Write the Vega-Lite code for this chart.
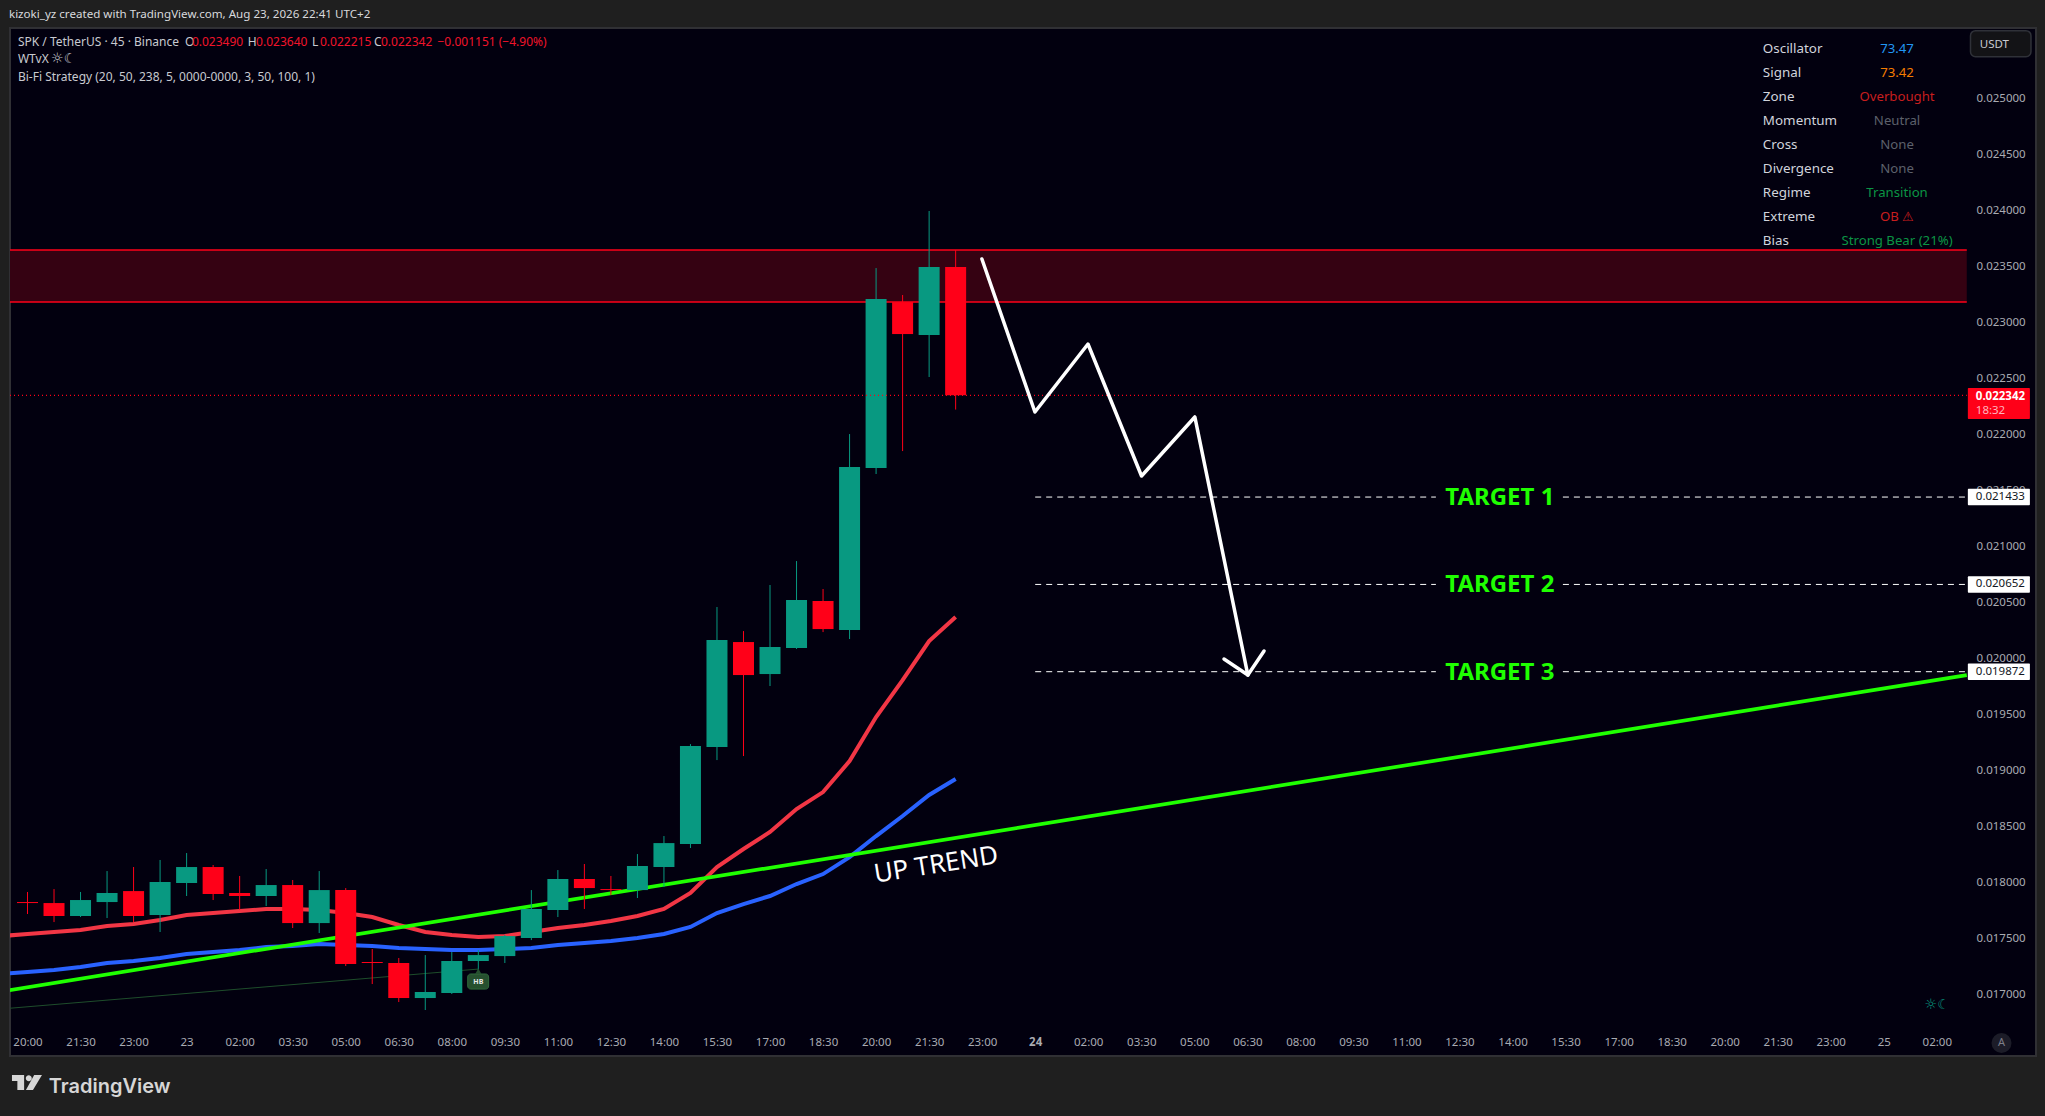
{
  "$schema": "https://vega.github.io/schema/vega-lite/v6.json",
  "width": 2026,
  "height": 1028,
  "autosize": "none",
  "padding": {"left": 10, "top": 28, "right": 9, "bottom": 60},
  "background": "#1f1f1f",
  "view": {"fill": "#02000f", "stroke": "#303034", "strokeWidth": 2},
  "config": {
    "font": "Noto Sans",
    "axis": {"grid": false, "domain": false, "ticks": false, "title": null, "labelFont": "Noto Sans", "labelFontSize": 11.5, "labelColor": "#a9abb2"}
  },
  "datasets": {
    "candles": [
      {"bar": 0, "open": 0.017813, "high": 0.017903, "low": 0.017706, "close": 0.017804},
      {"bar": 1, "open": 0.017804, "high": 0.017929, "low": 0.017634, "close": 0.017688},
      {"bar": 2, "open": 0.017688, "high": 0.017903, "low": 0.017679, "close": 0.017831},
      {"bar": 3, "open": 0.017813, "high": 0.01809, "low": 0.01767, "close": 0.017894},
      {"bar": 4, "open": 0.017911, "high": 0.018126, "low": 0.017634, "close": 0.017688},
      {"bar": 5, "open": 0.017697, "high": 0.018189, "low": 0.017545, "close": 0.017992},
      {"bar": 6, "open": 0.017983, "high": 0.018251, "low": 0.017867, "close": 0.018126},
      {"bar": 7, "open": 0.018126, "high": 0.018144, "low": 0.017831, "close": 0.017885},
      {"bar": 8, "open": 0.017894, "high": 0.018046, "low": 0.017742, "close": 0.017867},
      {"bar": 9, "open": 0.017867, "high": 0.018108, "low": 0.017777, "close": 0.017965},
      {"bar": 10, "open": 0.017965, "high": 0.01801, "low": 0.017581, "close": 0.017625},
      {"bar": 11, "open": 0.017625, "high": 0.01809, "low": 0.017536, "close": 0.01792},
      {"bar": 12, "open": 0.01792, "high": 0.017938, "low": 0.017241, "close": 0.017259},
      {"bar": 13, "open": 0.017277, "high": 0.017393, "low": 0.01708, "close": 0.017268},
      {"bar": 14, "open": 0.017268, "high": 0.017313, "low": 0.016919, "close": 0.016955},
      {"bar": 15, "open": 0.016955, "high": 0.017339, "low": 0.016848, "close": 0.017009},
      {"bar": 16, "open": 0.017, "high": 0.017366, "low": 0.016991, "close": 0.017286},
      {"bar": 17, "open": 0.017286, "high": 0.017384, "low": 0.017205, "close": 0.017339},
      {"bar": 18, "open": 0.01733, "high": 0.017518, "low": 0.017268, "close": 0.017509},
      {"bar": 19, "open": 0.017491, "high": 0.01792, "low": 0.017473, "close": 0.017751},
      {"bar": 20, "open": 0.017742, "high": 0.018099, "low": 0.017679, "close": 0.018019},
      {"bar": 21, "open": 0.018019, "high": 0.018153, "low": 0.017751, "close": 0.017938},
      {"bar": 22, "open": 0.017929, "high": 0.018046, "low": 0.017876, "close": 0.01792},
      {"bar": 23, "open": 0.01792, "high": 0.018242, "low": 0.017849, "close": 0.018135},
      {"bar": 24, "open": 0.018126, "high": 0.018403, "low": 0.017947, "close": 0.01834},
      {"bar": 25, "open": 0.018332, "high": 0.019225, "low": 0.018296, "close": 0.019208},
      {"bar": 26, "open": 0.019199, "high": 0.02045, "low": 0.019082, "close": 0.020155},
      {"bar": 27, "open": 0.020137, "high": 0.020235, "low": 0.019118, "close": 0.019842},
      {"bar": 28, "open": 0.019851, "high": 0.020647, "low": 0.019744, "close": 0.020093},
      {"bar": 29, "open": 0.020084, "high": 0.020861, "low": 0.020075, "close": 0.020513},
      {"bar": 30, "open": 0.020504, "high": 0.020611, "low": 0.020226, "close": 0.020253},
      {"bar": 31, "open": 0.020244, "high": 0.021996, "low": 0.020164, "close": 0.021701},
      {"bar": 32, "open": 0.021692, "high": 0.02348, "low": 0.021639, "close": 0.023203},
      {"bar": 33, "open": 0.023176, "high": 0.023239, "low": 0.021844, "close": 0.02289},
      {"bar": 34, "open": 0.022881, "high": 0.02399, "low": 0.022506, "close": 0.023489},
      {"bar": 35, "open": 0.02349, "high": 0.02364, "low": 0.022215, "close": 0.022342}
    ],
    "averages": [
      {"bar": -1, "fast": 0.017509, "slow": 0.01717},
      {"bar": 0, "fast": 0.017527, "slow": 0.017187},
      {"bar": 1, "fast": 0.017545, "slow": 0.017205},
      {"bar": 2, "fast": 0.017563, "slow": 0.017232},
      {"bar": 3, "fast": 0.017599, "slow": 0.017268},
      {"bar": 4, "fast": 0.017616, "slow": 0.017286},
      {"bar": 5, "fast": 0.017652, "slow": 0.017313},
      {"bar": 6, "fast": 0.017697, "slow": 0.017348},
      {"bar": 7, "fast": 0.017715, "slow": 0.017366},
      {"bar": 8, "fast": 0.017733, "slow": 0.017384},
      {"bar": 9, "fast": 0.017751, "slow": 0.017411},
      {"bar": 10, "fast": 0.017751, "slow": 0.01742},
      {"bar": 11, "fast": 0.017742, "slow": 0.017438},
      {"bar": 12, "fast": 0.017715, "slow": 0.017429},
      {"bar": 13, "fast": 0.017679, "slow": 0.01742},
      {"bar": 14, "fast": 0.017608, "slow": 0.017402},
      {"bar": 15, "fast": 0.017545, "slow": 0.017393},
      {"bar": 16, "fast": 0.017518, "slow": 0.017384},
      {"bar": 17, "fast": 0.0175, "slow": 0.017384},
      {"bar": 18, "fast": 0.017509, "slow": 0.017393},
      {"bar": 19, "fast": 0.017545, "slow": 0.017402},
      {"bar": 20, "fast": 0.017581, "slow": 0.017429},
      {"bar": 21, "fast": 0.017608, "slow": 0.017447},
      {"bar": 22, "fast": 0.017643, "slow": 0.017465},
      {"bar": 23, "fast": 0.017688, "slow": 0.017491},
      {"bar": 24, "fast": 0.017751, "slow": 0.017527},
      {"bar": 25, "fast": 0.017894, "slow": 0.01759},
      {"bar": 26, "fast": 0.018126, "slow": 0.017715},
      {"bar": 27, "fast": 0.018287, "slow": 0.017795},
      {"bar": 28, "fast": 0.018439, "slow": 0.017867},
      {"bar": 29, "fast": 0.018644, "slow": 0.017974},
      {"bar": 30, "fast": 0.018796, "slow": 0.018063},
      {"bar": 31, "fast": 0.019073, "slow": 0.018215},
      {"bar": 32, "fast": 0.019467, "slow": 0.018403},
      {"bar": 33, "fast": 0.019797, "slow": 0.018582},
      {"bar": 34, "fast": 0.020146, "slow": 0.01877},
      {"bar": 35, "fast": 0.020361, "slow": 0.018913}
    ],
    "trend": [
      {"bar": -1, "price": 0.017013},
      {"bar": 73.13, "price": 0.019842}
    ],
    "channel": [
      {"bar": -1, "price": 0.016857},
      {"bar": 17.01, "price": 0.017214}
    ],
    "zone": [
      {"bar": -0.66, "bar2": 73.13, "price": 0.023177, "price2": 0.023641}
    ],
    "zoneEdges": [
      {"bar": -0.66, "bar2": 73.13, "price": 0.023177},
      {"bar": -0.66, "bar2": 73.13, "price": 0.023641}
    ],
    "lastPrice": [
      {"bar": -0.66, "bar2": 73.13, "price": 0.022342}
    ],
    "targets": [
      {"bar": 38, "bar2": 53.11, "price": 0.021433},
      {"bar": 57.9, "bar2": 73.13, "price": 0.021433},
      {"bar": 38, "bar2": 53.11, "price": 0.020652},
      {"bar": 57.9, "bar2": 73.13, "price": 0.020652},
      {"bar": 38, "bar2": 53.11, "price": 0.019872},
      {"bar": 57.9, "bar2": 73.13, "price": 0.019872}
    ],
    "drawing": [
      {"seg": "wave", "bar": 35.99, "price": 0.023561},
      {"seg": "wave", "bar": 37.99, "price": 0.022193},
      {"seg": "wave", "bar": 39.99, "price": 0.022801},
      {"seg": "wave", "bar": 42.01, "price": 0.021621},
      {"seg": "wave", "bar": 44.02, "price": 0.022149},
      {"seg": "wave", "bar": 46.02, "price": 0.019842},
      {"seg": "head", "bar": 45.12, "price": 0.019985},
      {"seg": "head", "bar": 46.02, "price": 0.019842},
      {"seg": "head", "bar": 46.63, "price": 0.020057}
    ],
    "tags": [
      {"bar": 73.17, "bar2": 75.51, "price": 0.021359, "price2": 0.021507},
      {"bar": 73.17, "bar2": 75.51, "price": 0.020578, "price2": 0.020726},
      {"bar": 73.17, "bar2": 75.51, "price": 0.019798, "price2": 0.019946}
    ],
    "texts": [
      {"text": "SPK / TetherUS · 45 · Binance", "bar": -0.36, "price": 0.025503, "tone": "label"},
      {"text": "O", "bar": 5.94, "price": 0.025503, "tone": "label"},
      {"text": "0.023490", "bar": 6.2, "price": 0.025503, "tone": "down"},
      {"text": "H", "bar": 8.31, "price": 0.025503, "tone": "label"},
      {"text": "0.023640", "bar": 8.62, "price": 0.025503, "tone": "down"},
      {"text": "L", "bar": 10.73, "price": 0.025503, "tone": "label"},
      {"text": "0.022215", "bar": 11.03, "price": 0.025503, "tone": "down"},
      {"text": "C", "bar": 13.07, "price": 0.025503, "tone": "label"},
      {"text": "0.022342", "bar": 13.33, "price": 0.025503, "tone": "down"},
      {"text": "−0.001151 (−4.90%)", "bar": 15.46, "price": 0.025503, "tone": "down"},
      {"text": "WTvX", "bar": -0.36, "price": 0.025349, "tone": "label"},
      {"text": "Bi-Fi Strategy (20, 50, 238, 5, 0000-0000, 3, 50, 100, 1)", "bar": -0.36, "price": 0.02519, "tone": "label"}
    ],
    "header": [
      {"text": "kizoki_yz created with TradingView.com, Aug 23, 2026 22:41 UTC+2", "bar": -0.7, "price": 0.025742}
    ],
    "glyphs": [
      {"text": "☼☾", "bar": 0.89, "price": 0.025349, "tone": "label"},
      {"text": "☼☾", "bar": 71.54, "price": 0.016893, "tone": "candle"}
    ],
    "infoLabels": [
      {"text": "Oscillator", "bar": 65.44, "price": 0.025444},
      {"text": "Signal", "bar": 65.44, "price": 0.02523},
      {"text": "Zone", "bar": 65.44, "price": 0.025015},
      {"text": "Momentum", "bar": 65.44, "price": 0.024801},
      {"text": "Cross", "bar": 65.44, "price": 0.024586},
      {"text": "Divergence", "bar": 65.44, "price": 0.024372},
      {"text": "Regime", "bar": 65.44, "price": 0.024157},
      {"text": "Extreme", "bar": 65.44, "price": 0.023943},
      {"text": "Bias", "bar": 65.44, "price": 0.023728}
    ],
    "infoValues": [
      {"text": "73.47", "bar": 70.5, "price": 0.025444, "tone": "oscillator"},
      {"text": "73.42", "bar": 70.5, "price": 0.02523, "tone": "signal"},
      {"text": "Overbought", "bar": 70.5, "price": 0.025015, "tone": "bear"},
      {"text": "Neutral", "bar": 70.5, "price": 0.024801, "tone": "muted"},
      {"text": "None", "bar": 70.5, "price": 0.024586, "tone": "muted"},
      {"text": "None", "bar": 70.5, "price": 0.024372, "tone": "muted"},
      {"text": "Transition", "bar": 70.5, "price": 0.024157, "tone": "bull"},
      {"text": "OB ⚠", "bar": 70.5, "price": 0.023943, "tone": "bear"},
      {"text": "Strong Bear (21%)", "bar": 70.5, "price": 0.023728, "tone": "bull"}
    ],
    "tagTexts": [
      {"text": "0.021433", "bar": 73.47, "price": 0.021433, "tone": "dark"},
      {"text": "0.020652", "bar": 73.47, "price": 0.020652, "tone": "dark"},
      {"text": "0.019872", "bar": 73.47, "price": 0.019872, "tone": "dark"},
      {"text": "18:32", "bar": 73.47, "price": 0.022198, "tone": "pink"},
      {"text": "USDT", "bar": 73.62, "price": 0.025474, "tone": "label"}
    ],
    "targetNames": [
      {"text": "TARGET 1", "bar": 55.52, "price": 0.021433},
      {"text": "TARGET 2", "bar": 55.52, "price": 0.020652},
      {"text": "TARGET 3", "bar": 55.52, "price": 0.019872}
    ]
  },
  "encoding": {
    "x": {
      "field": "bar",
      "type": "quantitative",
      "scale": {"domain": [-0.66, 75.74], "nice": false, "zero": false, "padding": 0},
      "axis": {
        "orient": "bottom",
        "title": null,
        "values": [0, 2, 4, 6, 8, 10, 12, 14, 16, 18, 20, 22, 24, 26, 28, 30, 32, 34, 36, 38, 40, 42, 44, 46, 48, 50, 52, 54, 56, 58, 60, 62, 64, 66, 68, 70, 72],
        "labelExpr": "['20:00','21:30','23:00','23','02:00','03:30','05:00','06:30','08:00','09:30','11:00','12:30','14:00','15:30','17:00','18:30','20:00','21:30','23:00','24','02:00','03:30','05:00','06:30','08:00','09:30','11:00','12:30','14:00','15:30','17:00','18:30','20:00','21:30','23:00','25','02:00'][datum.value / 2]",
        "labelFontWeight": {"condition": {"test": "datum.value == 38", "value": "bold"}, "value": "normal"},
        "labelPadding": -14,
        "labelBaseline": "middle",
        "labelOverlap": false,
        "labelBound": false,
        "labelFlush": false
      }
    },
    "y": {
      "field": "price",
      "type": "quantitative",
      "scale": {"domain": [0.016436872, 0.025625692], "nice": false, "zero": false, "padding": 0},
      "axis": {
        "orient": "right",
        "title": null,
        "values": [0.017, 0.0175, 0.018, 0.0185, 0.019, 0.0195, 0.02, 0.0205, 0.021, 0.0215, 0.022, 0.0225, 0.023, 0.0235, 0.024, 0.0245, 0.025],
        "format": ".6f",
        "labelAlign": "left",
        "labelBaseline": "middle",
        "labelPadding": -60,
        "labelOffset": 1,
        "labelOverlap": false,
        "labelBound": false,
        "labelFlush": false
      }
    }
  },
  "layer": [
    {
      "data": {"name": "zone"},
      "mark": {"type": "rect", "color": "#350212"},
      "encoding": {"x2": {"field": "bar2"}, "y2": {"field": "price2"}}
    },
    {
      "data": {"name": "zoneEdges"},
      "mark": {"type": "rule", "color": "#ff0018", "strokeWidth": 1.5},
      "encoding": {"x2": {"field": "bar2"}}
    },
    {
      "data": {"name": "channel"},
      "mark": {"type": "line", "color": "#1e4d2b", "strokeWidth": 1, "clip": true},
      "encoding": {}
    },
    {
      "data": {"name": "averages"},
      "mark": {"type": "line", "color": "#f23645", "strokeWidth": 4, "clip": true},
      "encoding": {"y": {"field": "fast", "type": "quantitative"}}
    },
    {
      "data": {"name": "averages"},
      "mark": {"type": "line", "color": "#2962ff", "strokeWidth": 4, "clip": true},
      "encoding": {"y": {"field": "slow", "type": "quantitative"}}
    },
    {
      "data": {"name": "trend"},
      "mark": {"type": "line", "color": "#1fff00", "strokeWidth": 3.7, "clip": true},
      "encoding": {}
    },
    {
      "data": {"name": "candles"},
      "mark": {"type": "rule", "strokeWidth": 1},
      "encoding": {
        "y": {"field": "low", "type": "quantitative"},
        "y2": {"field": "high"},
        "color": {"condition": {"test": "datum.close >= datum.open", "value": "#089981"}, "value": "#ff0018"}
      }
    },
    {
      "data": {"name": "candles"},
      "mark": {"type": "bar", "size": 21, "orient": "vertical"},
      "encoding": {
        "y": {"field": "open", "type": "quantitative"},
        "y2": {"field": "close"},
        "color": {"condition": {"test": "datum.close >= datum.open", "value": "#089981"}, "value": "#ff0018"}
      }
    },
    {
      "data": {"name": "lastPrice"},
      "mark": {"type": "rule", "color": "#ff0018", "strokeWidth": 1.2, "strokeDash": [1, 3]},
      "encoding": {"x2": {"field": "bar2"}}
    },
    {
      "data": {"name": "targets"},
      "mark": {"type": "rule", "color": "#ffffff", "strokeWidth": 1, "strokeDash": [6, 5]},
      "encoding": {"x2": {"field": "bar2"}}
    },
    {
      "data": {"name": "drawing"},
      "mark": {"type": "line", "color": "#ffffff", "strokeWidth": 3.5, "strokeCap": "round", "strokeJoin": "round"},
      "encoding": {"detail": {"field": "seg"}}
    },
    {
      "data": {"values": [{"bar": 16.6, "bar2": 17.39, "price": 0.01717, "price2": 0.017035}]},
      "mark": {"type": "rect", "color": "#26502f", "stroke": "#2f6a3c", "cornerRadius": 3},
      "encoding": {"x2": {"field": "bar2"}, "y2": {"field": "price2"}}
    },
    {
      "data": {"values": [{"bar": 17, "price": 0.017194}]},
      "mark": {"type": "point", "shape": "triangle-up", "filled": true, "opacity": 1, "color": "#26502f", "size": 40},
      "encoding": {}
    },
    {
      "data": {"values": [{"text": "HB", "bar": 17, "price": 0.0171}]},
      "mark": {"type": "text", "font": "Noto Sans", "fontSize": 7, "fontWeight": "bold", "color": "#e8e8e8", "align": "center", "baseline": "middle"},
      "encoding": {"text": {"field": "text"}}
    },
    {
      "data": {"name": "tags"},
      "mark": {"type": "rect", "color": "#ffffff", "cornerRadius": 1},
      "encoding": {"x2": {"field": "bar2"}, "y2": {"field": "price2"}}
    },
    {
      "data": {"values": [{"bar": 73.17, "bar2": 75.51, "price": 0.022131, "price2": 0.022408}]},
      "mark": {"type": "rect", "color": "#ff0018", "cornerRadius": 1},
      "encoding": {"x2": {"field": "bar2"}, "y2": {"field": "price2"}}
    },
    {
      "data": {"values": [{"bar": 73.27, "bar2": 75.55, "price": 0.025369, "price2": 0.025602}]},
      "mark": {"type": "rect", "color": "#131316", "stroke": "#2f3138", "strokeWidth": 1.5, "cornerRadius": 5},
      "encoding": {"x2": {"field": "bar2"}, "y2": {"field": "price2"}}
    },
    {
      "data": {"values": [{"bar": 74.44, "price": 0.016553}]},
      "mark": {"type": "point", "shape": "circle", "filled": true, "opacity": 1, "color": "#1c1c28", "size": 400},
      "encoding": {}
    },
    {
      "data": {"values": [{"text": "A", "bar": 74.44, "price": 0.016553}]},
      "mark": {"type": "text", "font": "Noto Sans", "fontSize": 11, "color": "#7c7e88", "align": "center", "baseline": "middle"},
      "encoding": {"text": {"field": "text"}}
    },
    {
      "data": {"values": [{"text": "0.022342", "bar": 73.47, "price": 0.022328}]},
      "mark": {"type": "text", "font": "Noto Sans", "fontSize": 11.5, "fontWeight": "bold", "color": "#ffffff", "align": "left", "baseline": "middle"},
      "encoding": {"text": {"field": "text"}}
    },
    {
      "data": {"name": "tagTexts"},
      "mark": {"type": "text", "font": "Noto Sans", "fontSize": 11.5, "align": "left", "baseline": "middle"},
      "encoding": {
        "text": {"field": "text"},
        "color": {"field": "tone", "type": "nominal", "legend": null, "scale": {
          "domain": ["label", "down", "oscillator", "signal", "bear", "muted", "bull", "dark", "pink", "candle"],
          "range": ["#c8cad0", "#f0142a", "#2196f3", "#f57c00", "#c81e1e", "#5d606b", "#0b9444", "#131722", "#ffb3bd", "#089981"]
        }}
      }
    },
    {
      "data": {"name": "glyphs"},
      "mark": {"type": "text", "font": "DejaVu Sans", "fontSize": 14, "align": "left", "baseline": "middle"},
      "encoding": {
        "text": {"field": "text"},
        "color": {"field": "tone", "type": "nominal", "legend": null}
      }
    },
    {
      "data": {"name": "texts"},
      "mark": {"type": "text", "font": "Noto Sans", "fontSize": 12, "align": "left", "baseline": "middle"},
      "encoding": {
        "text": {"field": "text"},
        "color": {"field": "tone", "type": "nominal", "legend": null}
      }
    },
    {
      "data": {"name": "header"},
      "mark": {"type": "text", "font": "Noto Sans", "fontSize": 11.6, "color": "#d8d9dd", "align": "left", "baseline": "middle"},
      "encoding": {"text": {"field": "text"}}
    },
    {
      "data": {"name": "infoLabels"},
      "mark": {"type": "text", "font": "Noto Sans", "fontSize": 13.4, "color": "#d1d4dc", "align": "left", "baseline": "middle", "dy": 1},
      "encoding": {"text": {"field": "text"}}
    },
    {
      "data": {"name": "infoValues"},
      "mark": {"type": "text", "font": "Noto Sans", "fontSize": 13.2, "align": "center", "baseline": "middle", "dy": 1},
      "encoding": {
        "text": {"field": "text"},
        "color": {"field": "tone", "type": "nominal", "legend": null}
      }
    },
    {
      "data": {"name": "targetNames"},
      "mark": {"type": "text", "font": "Noto Sans", "fontSize": 24, "fontWeight": "bold", "color": "#1fff00", "align": "center", "baseline": "middle", "dy": 1},
      "encoding": {"text": {"field": "text"}}
    },
    {
      "data": {"values": [{"text": "UP TREND", "bar": 34.26, "price": 0.018144}]},
      "mark": {"type": "text", "font": "Noto Sans", "fontSize": 26, "color": "#ffffff", "align": "center", "baseline": "middle", "angle": 351},
      "encoding": {"text": {"field": "text"}}
    },
    {
      "data": {"values": [{"text": "TradingView", "bar": 0.8, "price": 0.016162}]},
      "mark": {"type": "text", "font": "Inter", "fontSize": 20, "fontWeight": 600, "color": "#d6d6d6", "align": "left", "baseline": "middle"},
      "encoding": {"text": {"field": "text"}}
    },
    {
      "data": {"values": [{"bar": -0.02, "price": 0.016201}]},
      "mark": {
        "type": "point",
        "filled": true,
        "opacity": 1,
        "color": "#d6d6d6",
        "size": 900,
        "shape": "M-1,-0.5 H-0.19 V0.5 H-0.64 V-0.1 H-1 Z M-0.08,-0.28 A0.2,0.2 0 1 1 0.32,-0.28 A0.2,0.2 0 1 1 -0.08,-0.28 Z M0.48,-0.5 H1 L0.4,0.5 H-0.07 Z"
      },
      "encoding": {}
    }
  ]
}
